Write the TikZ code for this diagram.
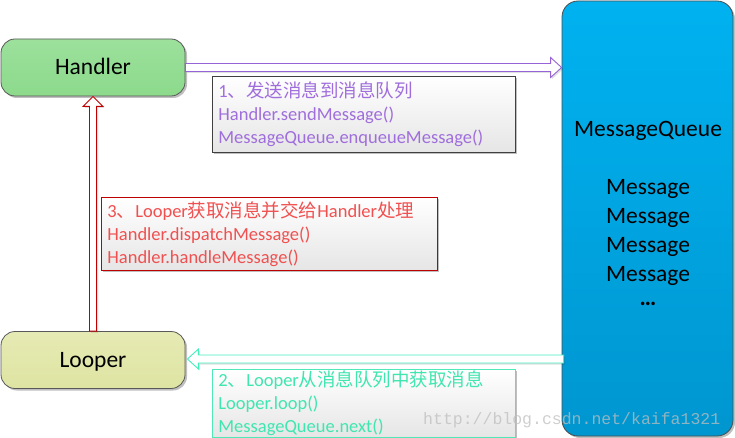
\documentclass[tikz,border=0pt]{standalone}
\usepackage{fontspec}
\setmainfont{Carlito}
\newfontfamily\cjk{Noto Sans CJK SC}
\newfontfamily\wmfont{Liberation Mono}
\usetikzlibrary{calc,shadows}
\definecolor{hTop}{RGB}{156,224,156}
\definecolor{hBot}{RGB}{140,218,140}
\definecolor{lTop}{RGB}{230,234,180}
\definecolor{lBot}{RGB}{222,228,162}
\definecolor{mqTop}{RGB}{0,178,240}
\definecolor{mqBot}{RGB}{0,150,208}
\definecolor{arrP}{RGB}{150,100,215}
\definecolor{arrR}{RGB}{192,0,0}
\definecolor{arrG}{RGB}{70,238,190}
\definecolor{txtP}{RGB}{160,110,220}
\definecolor{txtR}{RGB}{240,80,80}
\definecolor{txtG}{RGB}{64,230,176}
\definecolor{brdG}{RGB}{80,232,184}
\definecolor{wmgray}{RGB}{190,190,190}
\begin{document}
\begin{tikzpicture}[x=1pt,y=-1pt,
  shadowstyle/.style={drop shadow={shadow xshift=2pt,shadow yshift=-2pt,opacity=0.25,fill=black}},
  roundbox/.style={draw=black!65,line width=0.8pt,rounded corners=14pt,minimum width=184pt,minimum height=57pt,inner sep=0pt,font=\fontsize{23.5}{28}\selectfont,text height=15pt,text depth=0pt,shadowstyle},
  notebox/.style={draw,line width=0.8pt,top color=white,bottom color=black!10,anchor=north west,align=left,inner xsep=6pt,inner ysep=0pt,font=\fontsize{18.5}{23}\selectfont,shadowstyle},
  blockarrow/.style={line width=0.9pt,fill=white,line join=miter,drop shadow={shadow xshift=1.5pt,shadow yshift=-1.5pt,opacity=0.12,fill=black}},
  mqtext/.style={anchor=base,font=\fontsize{23.5}{29}\selectfont,text=black,inner sep=0pt}
]
\useasboundingbox (0,0) rectangle (735,438);
% main boxes
\node[roundbox,top color=hTop,bottom color=hBot] (H) at (93,67.5) {Handler};
\node[roundbox,top color=lTop,bottom color=lBot] (L) at (93,360) {Looper};
\node[draw=black!70,line width=0.8pt,rounded corners=16pt,minimum width=171pt,minimum height=435pt,inner sep=0pt,top color=mqTop,bottom color=mqBot,shadowstyle] (MQ) at (647.5,218.5) {};
\node[mqtext] (mq0) at (648,137) {MessageQueue};
\node[mqtext] (mq1) at (648,195) {Message};
\node[mqtext] (mq2) at (648,223.5) {Message};
\node[mqtext] (mq3) at (648,252) {Message};
\node[mqtext] (mq4) at (648,281) {Message};
\node[mqtext] (mq5) at (648,305) {\textbf{…}};
% note boxes
\node[notebox,draw=black!75,text=txtP,text width=291pt,minimum height=76pt] (n1) at (212,76)
  {1{\cjk 、发送消息到消息队列}\\Handler.sendMessage()\\MessageQueue.enqueueMessage()};
\node[notebox,draw=arrR,text=txtR,text width=324pt,minimum height=73pt] (n3) at (101,197)
  {3{\cjk 、}Looper{\cjk 获取消息并交给}Handler{\cjk 处理}\\Handler.dispatchMessage()\\Handler.handleMessage()};
\node[notebox,draw=brdG,text=txtG,text width=291pt,minimum height=68pt] (n2) at (212,369)
  {2{\cjk 、}Looper{\cjk 从消息队列中获取消息}\\Looper.loop()\\MessageQueue.next()};
% arrows
\coordinate (pa) at (H.east);
\coordinate (pb) at (MQ.west |- H.east);
\draw[blockarrow,draw=arrP] ($(pa)+(0,-4)$) -- ($(pb)+(-11,-4)$) -- ($(pb)+(-11,-10)$) -- (pb)
  -- ($(pb)+(-11,10)$) -- ($(pb)+(-11,4)$) -- ($(pa)+(0,4)$) -- cycle;
\coordinate (ra) at (L.north);
\coordinate (rb) at (H.south);
\draw[blockarrow,draw=arrR] ($(ra)+(-3.5,0)$) -- ($(rb)+(-3.5,10)$) -- ($(rb)+(-10,10)$) -- (rb)
  -- ($(rb)+(10,10)$) -- ($(rb)+(3.5,10)$) -- ($(ra)+(3.5,0)$) -- cycle;
\coordinate (ga) at ($(MQ.west |- L.east)+(2,-1)$);
\coordinate (gb) at ($(L.east)+(2,-1)$);
\draw[blockarrow,draw=arrG] ($(ga)+(0,-4)$) -- ($(gb)+(11,-4)$) -- ($(gb)+(11,-10)$) -- (gb)
  -- ($(gb)+(11,10)$) -- ($(gb)+(11,4)$) -- ($(ga)+(0,4)$) -- cycle;
% watermark
\node[anchor=base west,inner sep=0pt,font=\wmfont\fontsize{16.5}{20}\selectfont,text=wmgray,text opacity=0.75] (wm) at (423,424) {http://blog.csdn.net/kaifa1321};
\end{tikzpicture}
\end{document}
